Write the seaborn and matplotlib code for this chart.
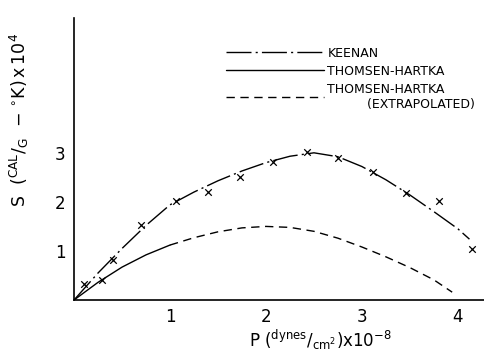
import matplotlib
matplotlib.use('Agg')
import matplotlib.pyplot as plt
import seaborn as sns
import pandas as pd

# Keenan curve (dash-dot)
keenan_p = [0, 0.25, 0.5, 0.75, 1.0, 1.25, 1.5, 1.75, 2.0, 2.25, 2.5, 2.75, 3.0, 3.25, 3.5, 3.75, 4.0, 4.12]
keenan_s = [0, 0.55, 1.05, 1.52, 1.94, 2.2, 2.43, 2.63, 2.8, 2.93, 3.0, 2.92, 2.72, 2.45, 2.14, 1.8, 1.45, 1.24]

# Thomsen-Hartka measured range (solid)
th_p = [0, 0.25, 0.5, 0.75, 1.0]
th_s = [0, 0.36, 0.67, 0.92, 1.12]

# Thomsen-Hartka extrapolated (dashed)
th_ext_p = [1.0, 1.25, 1.5, 1.75, 2.0, 2.25, 2.5, 2.75, 3.0, 3.25, 3.5, 3.75, 3.94]
th_ext_s = [1.12, 1.27, 1.39, 1.47, 1.5, 1.48, 1.4, 1.26, 1.08, 0.88, 0.66, 0.41, 0.16]

# data points (crosses)
pts_p = [0.10, 0.29, 0.41, 0.70, 1.06, 1.40, 1.73, 2.07, 2.43, 2.75, 3.11, 3.46, 3.80, 4.15]
pts_s = [0.33, 0.41, 0.82, 1.53, 2.02, 2.20, 2.50, 2.82, 3.02, 2.90, 2.60, 2.18, 2.02, 1.04]

xticks = [1, 2, 3, 4]
yticks = [1, 2, 3]

sns.set_style('white')
plt.rcParams['font.family'] = ['DejaVu Sans']
plt.rcParams['text.color'] = 'black'
plt.rcParams['axes.labelcolor'] = 'black'
plt.rcParams['xtick.color'] = 'black'
plt.rcParams['ytick.color'] = 'black'

fig = plt.figure(figsize=(4.85, 3.54), dpi=100)
ax = fig.add_axes([0.1526, 0.1525, 0.847, 0.797])

df_k = pd.DataFrame({'P': keenan_p, 'S': keenan_s})
df_th = pd.DataFrame({'P': th_p, 'S': th_s})
df_ext = pd.DataFrame({'P': th_ext_p, 'S': th_ext_s})
df_pts = pd.DataFrame({'P': pts_p, 'S': pts_s})

sns.lineplot(data=df_k, x='P', y='S', ax=ax, color='black', lw=1.0, sort=False,
             linestyle=(0, (18, 3, 1.5, 3)), label='KEENAN')
sns.lineplot(data=df_th, x='P', y='S', ax=ax, color='black', lw=1.0, sort=False,
             label='THOMSEN-HARTKA')
sns.lineplot(data=df_ext, x='P', y='S', ax=ax, color='black', lw=1.0, sort=False,
             linestyle=(0, (6, 4)), label='THOMSEN-HARTKA\n          (EXTRAPOLATED)')
sns.scatterplot(data=df_pts, x='P', y='S', ax=ax, marker='x', color='black', s=22,
                linewidth=0.9, zorder=5)

ax.set_xlim(0, 4.28)
ax.set_ylim(0, 5.75)
ax.set_xticks(xticks)
ax.set_yticks(yticks)
ax.set_xticklabels([str(t) for t in xticks], fontsize=12)
ax.set_yticklabels([str(t) for t in yticks], fontsize=12)
ax.tick_params(axis='both', direction='in', length=6, width=0.8, color='black', pad=6)

for s in ['top', 'right']:
    ax.spines[s].set_visible(False)
for s in ['left', 'bottom']:
    ax.spines[s].set_color('black')
    ax.spines[s].set_linewidth(1.2)

ax.set_xlabel(r'P $(^{\mathrm{dynes}}/_{\mathrm{cm}^2})\mathrm{x}10^{-8}$', fontsize=12)
ax.xaxis.set_label_coords(0.60, -0.10)
ax.set_ylabel(r'S  $(^{\mathrm{CAL}}/_{\mathrm{G}}\ \ \mathrm{-}\ ^{\circ}\mathrm{K})\,\mathrm{x}\,10^{4}$',
              fontsize=12.5)
ax.yaxis.set_label_coords(-0.105, 0.64)

leg = ax.legend(loc='upper left', bbox_to_anchor=(0.355, 0.92), frameon=False,
                fontsize=9, handlelength=7.8, handletextpad=0.3, borderpad=0,
                labelspacing=0.4)

fig.savefig('out.png', dpi=100)
plt.close(fig)
